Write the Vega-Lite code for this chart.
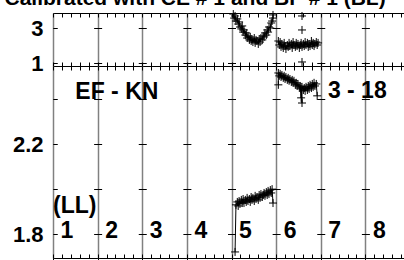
{
  "$schema": "https://vega.github.io/schema/vega-lite/v6.json",
  "padding": {"left": 4, "top": -13, "right": 0, "bottom": 0},
  "title": {"text": "Calibrated with CE # 1 and BP # 1 (BL)", "anchor": "start", "fontSize": 21, "font": "Liberation Sans", "fontWeight": "bold", "color": "black", "offset": -1},
  "spacing": 0,
  "bounds": "flush",
  "datasets": {
    "top": [
      {"s":5,"x":4.04,"y":3.80},{"s":5,"x":4.06,"y":3.57},{"s":5,"x":4.08,"y":3.69},{"s":5,"x":4.10,"y":3.40},{"s":5,"x":4.13,"y":3.52},{"s":5,"x":4.15,"y":3.23},{"s":5,"x":4.17,"y":3.35},{"s":5,"x":4.19,"y":3.06},{"s":5,"x":4.22,"y":2.95},{"s":5,"x":4.24,"y":3.12},{"s":5,"x":4.26,"y":2.77},{"s":5,"x":4.28,"y":2.89},{"s":5,"x":4.31,"y":2.60},{"s":5,"x":4.33,"y":2.72},{"s":5,"x":4.35,"y":2.43},{"s":5,"x":4.37,"y":2.55},{"s":5,"x":4.40,"y":2.32},{"s":5,"x":4.42,"y":2.49},{"s":5,"x":4.44,"y":2.26},{"s":5,"x":4.46,"y":2.37},{"s":5,"x":4.48,"y":2.20},{"s":5,"x":4.51,"y":2.43},{"s":5,"x":4.53,"y":2.15},{"s":5,"x":4.55,"y":2.32},{"s":5,"x":4.57,"y":2.26},{"s":5,"x":4.60,"y":2.09},{"s":5,"x":4.62,"y":2.37},{"s":5,"x":4.64,"y":2.20},{"s":5,"x":4.66,"y":2.43},{"s":5,"x":4.69,"y":2.32},{"s":5,"x":4.71,"y":2.55},{"s":5,"x":4.73,"y":2.49},{"s":5,"x":4.75,"y":2.72},{"s":5,"x":4.78,"y":2.60},{"s":5,"x":4.80,"y":2.89},{"s":5,"x":4.82,"y":2.77},{"s":5,"x":4.84,"y":3.06},{"s":5,"x":4.87,"y":3.00},{"s":5,"x":4.89,"y":3.29},{"s":5,"x":4.91,"y":3.40},{"s":5,"x":4.93,"y":3.57},{"s":5,"x":4.93,"y":3.75},
      {"s":6,"x":5.05,"y":2.26},{"s":6,"x":5.07,"y":2.03},{"s":6,"x":5.09,"y":2.20},{"s":6,"x":5.11,"y":1.92},{"s":6,"x":5.13,"y":2.09},{"s":6,"x":5.16,"y":1.86},{"s":6,"x":5.18,"y":2.15},{"s":6,"x":5.20,"y":1.97},{"s":6,"x":5.22,"y":1.80},{"s":6,"x":5.25,"y":2.03},{"s":6,"x":5.27,"y":1.92},{"s":6,"x":5.29,"y":2.15},{"s":6,"x":5.31,"y":1.97},{"s":6,"x":5.34,"y":2.09},{"s":6,"x":5.36,"y":1.86},{"s":6,"x":5.38,"y":2.20},{"s":6,"x":5.40,"y":2.03},{"s":6,"x":5.43,"y":1.92},{"s":6,"x":5.45,"y":2.15},{"s":6,"x":5.47,"y":1.97},{"s":6,"x":5.49,"y":2.09},{"s":6,"x":5.52,"y":1.86},{"s":6,"x":5.54,"y":2.03},{"s":6,"x":5.56,"y":2.15},{"s":6,"x":5.58,"y":1.92},{"s":6,"x":5.61,"y":2.09},{"s":6,"x":5.63,"y":1.97},{"s":6,"x":5.65,"y":2.20},{"s":6,"x":5.67,"y":2.03},{"s":6,"x":5.70,"y":2.15},{"s":6,"x":5.72,"y":1.92},{"s":6,"x":5.74,"y":2.09},{"s":6,"x":5.76,"y":1.97},{"s":6,"x":5.79,"y":2.26},{"s":6,"x":5.81,"y":2.03},{"s":6,"x":5.83,"y":2.15},{"s":6,"x":5.85,"y":1.97},{"s":6,"x":5.87,"y":2.09},{"s":6,"x":5.90,"y":2.20},{"s":6,"x":5.92,"y":2.03},{"s":6,"x":5.94,"y":2.15},
      {"s":7,"x":5.58,"y":3.69,"o":1},{"s":7,"x":5.58,"y":2.89,"o":1},{"s":7,"x":5.58,"y":1.06,"o":1}
    ],
    "bot": [
      {"s":5,"x":4.08,"y":1.720},{"s":5,"x":4.10,"y":1.930},{"s":5,"x":4.13,"y":1.943},{"s":5,"x":4.15,"y":1.925},{"s":5,"x":4.17,"y":1.947},{"s":5,"x":4.19,"y":1.934},{"s":5,"x":4.22,"y":1.952},{"s":5,"x":4.24,"y":1.938},{"s":5,"x":4.26,"y":1.956},{"s":5,"x":4.28,"y":1.938},{"s":5,"x":4.31,"y":1.952},{"s":5,"x":4.33,"y":1.943},{"s":5,"x":4.35,"y":1.961},{"s":5,"x":4.37,"y":1.947},{"s":5,"x":4.40,"y":1.956},{"s":5,"x":4.42,"y":1.943},{"s":5,"x":4.44,"y":1.965},{"s":5,"x":4.46,"y":1.952},{"s":5,"x":4.48,"y":1.961},{"s":5,"x":4.51,"y":1.947},{"s":5,"x":4.53,"y":1.970},{"s":5,"x":4.55,"y":1.956},{"s":5,"x":4.57,"y":1.965},{"s":5,"x":4.60,"y":1.952},{"s":5,"x":4.62,"y":1.974},{"s":5,"x":4.64,"y":1.961},{"s":5,"x":4.66,"y":1.978},{"s":5,"x":4.69,"y":1.965},{"s":5,"x":4.71,"y":1.974},{"s":5,"x":4.73,"y":1.983},{"s":5,"x":4.75,"y":1.970},{"s":5,"x":4.78,"y":1.987},{"s":5,"x":4.80,"y":1.974},{"s":5,"x":4.82,"y":1.992},{"s":5,"x":4.84,"y":1.978},{"s":5,"x":4.87,"y":1.996},{"s":5,"x":4.89,"y":1.983},{"s":5,"x":4.91,"y":2.000},{"s":5,"x":4.93,"y":1.938},
      {"s":6,"x":5.05,"y":2.465},{"s":6,"x":5.05,"y":2.518},{"s":6,"x":5.07,"y":2.505},{"s":6,"x":5.09,"y":2.514},{"s":6,"x":5.11,"y":2.500},{"s":6,"x":5.13,"y":2.509},{"s":6,"x":5.16,"y":2.496},{"s":6,"x":5.18,"y":2.505},{"s":6,"x":5.20,"y":2.491},{"s":6,"x":5.22,"y":2.500},{"s":6,"x":5.25,"y":2.487},{"s":6,"x":5.27,"y":2.496},{"s":6,"x":5.29,"y":2.483},{"s":6,"x":5.31,"y":2.491},{"s":6,"x":5.34,"y":2.478},{"s":6,"x":5.36,"y":2.487},{"s":6,"x":5.38,"y":2.474},{"s":6,"x":5.40,"y":2.483},{"s":6,"x":5.43,"y":2.465},{"s":6,"x":5.45,"y":2.474},{"s":6,"x":5.47,"y":2.460},{"s":6,"x":5.49,"y":2.469},{"s":6,"x":5.52,"y":2.451},{"s":6,"x":5.54,"y":2.460},{"s":6,"x":5.56,"y":2.407},{"s":6,"x":5.56,"y":2.447},{"s":6,"x":5.58,"y":2.384},{"s":6,"x":5.58,"y":2.456},{"s":6,"x":5.61,"y":2.442},{"s":6,"x":5.63,"y":2.451},{"s":6,"x":5.65,"y":2.438},{"s":6,"x":5.67,"y":2.456},{"s":6,"x":5.70,"y":2.442},{"s":6,"x":5.72,"y":2.460},{"s":6,"x":5.74,"y":2.447},{"s":6,"x":5.76,"y":2.465},{"s":6,"x":5.79,"y":2.451},{"s":6,"x":5.81,"y":2.469},{"s":6,"x":5.83,"y":2.456},{"s":6,"x":5.85,"y":2.474},{"s":6,"x":5.87,"y":2.460},{"s":6,"x":5.90,"y":2.469},{"s":6,"x":5.92,"y":2.416}
    ],
    "lab": [
      {"t":"EF - KN","x":0.5,"y":2.40},{"t":"3 - 18","x":6.16,"y":2.405},{"t":"(LL)","x":0.0,"y":1.894},
      {"t":"1","x":0.17,"y":1.782},{"t":"2","x":1.17,"y":1.782},{"t":"3","x":2.17,"y":1.782},{"t":"4","x":3.17,"y":1.782},
      {"t":"5","x":4.17,"y":1.782},{"t":"6","x":5.17,"y":1.782},{"t":"7","x":6.17,"y":1.782},{"t":"8","x":7.17,"y":1.782}
    ]
  },
  "vconcat": [
    {
      "width": 357, "height": 53,
      "data": {"name": "top"},
      "resolve": {"axis": {"x": "independent"}},
      "layer": [
        {
          "transform": [{"filter": "datum.o != 1"}],
          "mark": {"type": "line", "color": "black", "strokeWidth": 1},
          "encoding": {
            "x": {"field": "x", "type": "quantitative", "scale": {"domain": [0, 8], "nice": false}, "axis": {"orient": "bottom", "values": [0,0.2,0.4,0.6,0.8,1,1.2,1.4,1.6,1.8,2,2.2,2.4,2.6,2.8,3,3.2,3.4,3.6,3.8,4,4.2,4.4,4.6,4.8,5,5.2,5.4,5.6,5.8,6,6.2,6.4,6.6,6.8,7,7.2,7.4,7.6,7.8,8], "labels": false, "tickSize": -4, "grid": true, "gridColor": "#808080", "gridWidth": 1.5, "gridOpacity": {"condition": {"test": "datum.value % 1 == 0", "value": 1}, "value": 0}, "title": null}},
            "y": {"field": "y", "type": "quantitative", "scale": {"domain": [0.83, 3.86], "nice": false, "zero": false}, "axis": {"values": [1, 2, 3], "labelExpr": "datum.value == 2 ? '' : datum.label", "tickSize": -4, "labelPadding": 14, "grid": true, "gridColor": "black", "gridDash": [8, 36.625], "gridDashOffset": 4, "minExtent": 48, "maxExtent": 48, "title": null}},
            "detail": {"field": "s"},
            "order": {"value": null}
          }
        },
        {
          "mark": {"type": "point", "shape": "M-1,0L1,0M0,-1L0,1", "filled": false, "stroke": "black", "strokeWidth": 1, "size": 64, "opacity": 1},
          "encoding": {
            "x": {"field": "x", "type": "quantitative", "axis": {"orient": "top", "values": [0,0.2,0.4,0.6,0.8,1,1.2,1.4,1.6,1.8,2,2.2,2.4,2.6,2.8,3,3.2,3.4,3.6,3.8,4,4.2,4.4,4.6,4.8,5,5.2,5.4,5.6,5.8,6,6.2,6.4,6.6,6.8,7,7.2,7.4,7.6,7.8,8], "labels": false, "tickSize": -4, "grid": false, "title": null}},
            "y": {"field": "y", "type": "quantitative"}
          }
        }
      ]
    },
    {
      "width": 357, "height": 192,
      "resolve": {"axis": {"x": "independent"}},
      "layer": [
        {
          "data": {"name": "bot"},
          "mark": {"type": "line", "color": "black", "strokeWidth": 1},
          "encoding": {
            "x": {"field": "x", "type": "quantitative", "scale": {"domain": [0, 8], "nice": false}, "axis": {"orient": "bottom", "values": [0,0.2,0.4,0.6,0.8,1,1.2,1.4,1.6,1.8,2,2.2,2.4,2.6,2.8,3,3.2,3.4,3.6,3.8,4,4.2,4.4,4.6,4.8,5,5.2,5.4,5.6,5.8,6,6.2,6.4,6.6,6.8,7,7.2,7.4,7.6,7.8,8], "labels": false, "tickSize": -4, "grid": true, "gridColor": "#808080", "gridWidth": 1.5, "gridOpacity": {"condition": {"test": "datum.value % 1 == 0", "value": 1}, "value": 0}, "title": null}},
            "y": {"field": "y", "type": "quantitative", "scale": {"domain": [1.693, 2.549], "nice": false, "zero": false}, "axis": {"values": [1.8, 2.0, 2.2, 2.4], "labelExpr": "abs(datum.value - 2.2) < 0.01 || abs(datum.value - 1.8) < 0.01 ? format(datum.value, '.1f') : ''", "tickSize": -4, "labelPadding": 14, "grid": true, "gridColor": "black", "gridDash": [8, 36.625], "gridDashOffset": 4, "minExtent": 48, "maxExtent": 48, "title": null}},
            "detail": {"field": "s"},
            "order": {"value": null}
          }
        },
        {
          "data": {"name": "bot"},
          "mark": {"type": "point", "shape": "M-1,0L1,0M0,-1L0,1", "filled": false, "stroke": "black", "strokeWidth": 1, "size": 64, "opacity": 1},
          "encoding": {
            "x": {"field": "x", "type": "quantitative", "axis": {"orient": "top", "values": [0,0.2,0.4,0.6,0.8,1,1.2,1.4,1.6,1.8,2,2.2,2.4,2.6,2.8,3,3.2,3.4,3.6,3.8,4,4.2,4.4,4.6,4.8,5,5.2,5.4,5.6,5.8,6,6.2,6.4,6.6,6.8,7,7.2,7.4,7.6,7.8,8], "labels": false, "tickSize": -4, "grid": false, "title": null}},
            "y": {"field": "y", "type": "quantitative"}
          }
        },
        {
          "data": {"name": "lab"},
          "mark": {"type": "text", "align": "left", "baseline": "alphabetic", "font": "Liberation Sans", "fontWeight": "bold", "fontSize": 23, "color": "black"},
          "encoding": {
            "x": {"field": "x", "type": "quantitative"},
            "y": {"field": "y", "type": "quantitative"},
            "text": {"field": "t"}
          }
        }
      ]
    }
  ],
  "config": {
    "view": {"stroke": "black", "strokeWidth": 1},
    "axis": {"labelFont": "Liberation Sans", "labelFontWeight": "bold", "labelFontSize": 22, "labelColor": "black", "domain": false, "tickColor": "black"}
  }
}
